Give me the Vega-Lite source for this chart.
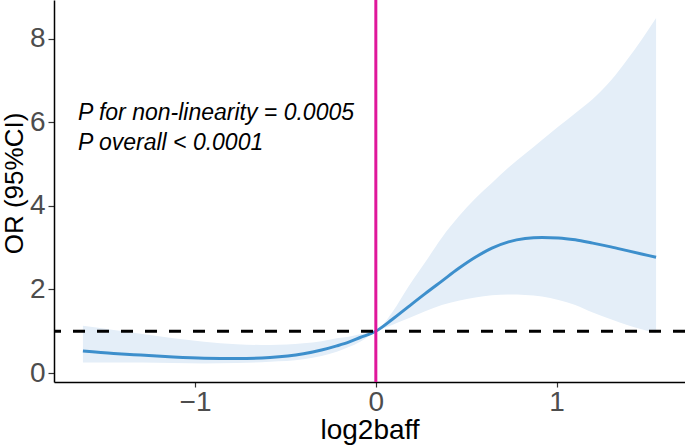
{
  "$schema": "https://vega.github.io/schema/vega-lite/v6.json",
  "width": 631,
  "height": 382,
  "autosize": {"type": "none"},
  "padding": {"left": 54, "top": 0, "right": 0, "bottom": 65},
  "background": "white",
  "config": {
    "view": {"stroke": null},
    "font": "Liberation Sans"
  },
  "datasets": {
    "curve": [
      {"x": -1.62, "or": 0.53, "lo": 0.25, "hi": 1.13},
      {"x": -1.45, "or": 0.47, "lo": 0.25, "hi": 1.03},
      {"x": -1.30, "or": 0.43, "lo": 0.25, "hi": 0.94},
      {"x": -1.12, "or": 0.385, "lo": 0.24, "hi": 0.83},
      {"x": -0.95, "or": 0.355, "lo": 0.23, "hi": 0.75},
      {"x": -0.77, "or": 0.345, "lo": 0.24, "hi": 0.69},
      {"x": -0.585, "or": 0.37, "lo": 0.27, "hi": 0.67},
      {"x": -0.40, "or": 0.46, "lo": 0.33, "hi": 0.71},
      {"x": -0.30, "or": 0.55, "lo": 0.41, "hi": 0.76},
      {"x": -0.216, "or": 0.65, "lo": 0.51, "hi": 0.83},
      {"x": -0.15, "or": 0.74, "lo": 0.62, "hi": 0.87},
      {"x": -0.087, "or": 0.85, "lo": 0.75, "hi": 0.93},
      {"x": 0, "or": 1.0, "lo": 0.99, "hi": 1.01},
      {"x": 0.09, "or": 1.28, "lo": 1.15, "hi": 1.45},
      {"x": 0.181, "or": 1.59, "lo": 1.31, "hi": 2.07},
      {"x": 0.273, "or": 1.9, "lo": 1.48, "hi": 2.65},
      {"x": 0.365, "or": 2.2, "lo": 1.63, "hi": 3.24},
      {"x": 0.457, "or": 2.5, "lo": 1.73, "hi": 3.74},
      {"x": 0.55, "or": 2.77, "lo": 1.81, "hi": 4.18},
      {"x": 0.642, "or": 2.99, "lo": 1.86, "hi": 4.55},
      {"x": 0.734, "or": 3.14, "lo": 1.88, "hi": 4.92},
      {"x": 0.826, "or": 3.22, "lo": 1.87, "hi": 5.25},
      {"x": 0.919, "or": 3.245, "lo": 1.83, "hi": 5.58},
      {"x": 1.01, "or": 3.235, "lo": 1.75, "hi": 5.9},
      {"x": 1.103, "or": 3.19, "lo": 1.63, "hi": 6.22},
      {"x": 1.20, "or": 3.11, "lo": 1.45, "hi": 6.56},
      {"x": 1.30, "or": 3.02, "lo": 1.29, "hi": 7.0},
      {"x": 1.39, "or": 2.93, "lo": 1.15, "hi": 7.5},
      {"x": 1.47, "or": 2.85, "lo": 1.05, "hi": 7.98},
      {"x": 1.55, "or": 2.77, "lo": 0.95, "hi": 8.5}
    ],
    "notes": [
      {"x": -1.647, "y": 6.23, "label": "P for non-linearity = 0.0005"},
      {"x": -1.647, "y": 5.51, "label": "P overall < 0.0001"}
    ]
  },
  "layer": [
    {
      "data": {"name": "curve"},
      "mark": {"type": "area", "color": "#e4eef8", "opacity": 1, "interpolate": "monotone"},
      "encoding": {
        "x": {
          "field": "x", "type": "quantitative",
          "scale": {"domain": [-1.78, 1.71], "nice": false, "zero": false},
          "axis": {
            "values": [-1, 0, 1], "format": "d", "title": "log2baff", "grid": false,
            "domainColor": "black", "domainWidth": 1.5,
            "tickColor": "#333333", "tickSize": 5, "tickWidth": 1.2,
            "labelFontSize": 28, "labelColor": "#4d4d4d", "labelPadding": 1,
            "titleFontSize": 28, "titleFontWeight": "normal", "titleColor": "black", "titlePadding": 0
          }
        },
        "y": {
          "field": "lo", "type": "quantitative",
          "scale": {"domain": [-0.215, 8.93], "nice": false, "zero": false},
          "axis": {
            "values": [0, 2, 4, 6, 8], "title": "OR (95%CI)", "grid": false,
            "domainColor": "black", "domainWidth": 1.5,
            "tickColor": "#333333", "tickSize": 6, "tickWidth": 1.2,
            "labelFontSize": 28, "labelColor": "#4d4d4d", "labelPadding": 3,
            "titleFontSize": 26, "titleFontWeight": "normal", "titleColor": "black",
            "titleX": -53, "titleY": 183, "titleAngle": -90, "titleAlign": "center", "titleBaseline": "top"
          }
        },
        "y2": {"field": "hi"}
      }
    },
    {
      "data": {"name": "curve"},
      "mark": {"type": "line", "color": "#3d8fcc", "strokeWidth": 3, "interpolate": "monotone"},
      "encoding": {
        "x": {"field": "x", "type": "quantitative"},
        "y": {"field": "or", "type": "quantitative"}
      }
    },
    {
      "data": {"values": [{"ref": 1}]},
      "mark": {"type": "rule", "color": "black", "strokeWidth": 3, "strokeDash": [12, 12]},
      "encoding": {"y": {"field": "ref", "type": "quantitative"}}
    },
    {
      "data": {"values": [{"ref": 0}]},
      "mark": {"type": "rule", "color": "#e0179b", "strokeWidth": 3},
      "encoding": {"x": {"field": "ref", "type": "quantitative"}}
    },
    {
      "data": {"name": "notes"},
      "mark": {"type": "text", "align": "left", "baseline": "middle", "fontSize": 23, "fontStyle": "italic", "color": "black"},
      "encoding": {
        "x": {"field": "x", "type": "quantitative"},
        "y": {"field": "y", "type": "quantitative"},
        "text": {"field": "label"}
      }
    }
  ]
}
